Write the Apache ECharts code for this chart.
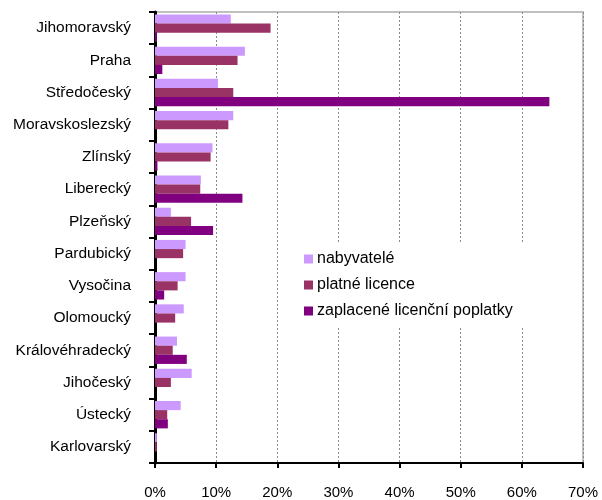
<!DOCTYPE html>
<html>
<head>
<meta charset="utf-8">
<script src="https://cdn.jsdelivr.net/npm/echarts@6/dist/echarts.min.js"></script>
<style>
  html, body { margin: 0; padding: 0; background: #fff; }
  #chart { width: 602px; height: 500px; }
</style>
</head>
<body>
<div id="chart"></div>
<script>
// kraje (shora dolů)
const kraje = ['Jihomoravský', 'Praha', 'Středočeský', 'Moravskoslezský', 'Zlínský', 'Liberecký', 'Plzeňský',
  'Pardubický', 'Vysočina', 'Olomoucký', 'Královéhradecký', 'Jihočeský', 'Ústecký', 'Karlovarský']
// podíly v %
const nabyvatele = [12.4, 14.7, 10.3, 12.8, 9.4, 7.5, 2.6, 5.0, 5.0, 4.7, 3.6, 6.0, 4.2, 0.3]
const platneLicence = [18.9, 13.5, 12.8, 12.0, 9.1, 7.4, 5.9, 4.6, 3.7, 3.3, 2.9, 2.6, 2.0, 0.3]
const zaplacenePoplatky = [0.3, 1.2, 64.5, 0, 0.4, 14.3, 9.5, 0, 1.5, 0, 5.2, 0, 2.1, 0]
const xTicks = [0, 10, 20, 30, 40, 50, 60, 70]

const FONT = 'Liberation Sans, Arial, sans-serif'
const chart = echarts.init(document.getElementById('chart'))

const bar = (name, data, color) => ({
  name: name,
  type: 'bar',
  data: data,
  barGap: '0%',
  barCategoryGap: '15%',
  itemStyle: { color: color },
  animation: false
})

chart.setOption({
  textStyle: { fontFamily: FONT },
  grid: {
    left: 155, right: 19, top: 12, bottom: 37,
    show: true, borderColor: '#c0c0c0', borderWidth: 2, backgroundColor: 'transparent'
  },
  legend: {
    orient: 'vertical',
    left: 282, top: 243,
    padding: [8, 30, 8, 22],
    backgroundColor: '#fff',
    itemWidth: 9, itemHeight: 9, itemGap: 10,
    icon: 'rect',
    textStyle: { fontFamily: FONT, fontSize: 16, color: '#000', padding: [0, 0, 0, -1] },
    data: ['nabyvatelé', 'platné licence', 'zaplacené licenční poplatky']
  },
  xAxis: {
    type: 'value',
    min: xTicks[0], max: xTicks[xTicks.length - 1], interval: 10,
    axisLine: { show: true, lineStyle: { color: '#000', width: 2 } },
    axisTick: { show: true, length: 5, lineStyle: { color: '#000', width: 2 } },
    axisLabel: { formatter: '{value}%', color: '#000', fontSize: 15, margin: 22, fontFamily: FONT },
    splitLine: { show: true, lineStyle: { color: '#8a8a8a', type: [2, 2], width: 1 } }
  },
  yAxis: {
    type: 'category',
    data: kraje,
    inverse: true,
    axisLine: { show: true, lineStyle: { color: '#000', width: 3 } },
    axisTick: { show: true, length: 6, lineStyle: { color: '#000', width: 2 } },
    axisLabel: { color: '#000', fontSize: 15.5, margin: 24, fontFamily: FONT },
    splitLine: { show: false }
  },
  series: [
    bar('nabyvatelé', nabyvatele, '#cc99ff'),
    bar('platné licence', platneLicence, '#993366'),
    bar('zaplacené licenční poplatky', zaplacenePoplatky, '#800080')
  ]
})
</script>
</body>
</html>
